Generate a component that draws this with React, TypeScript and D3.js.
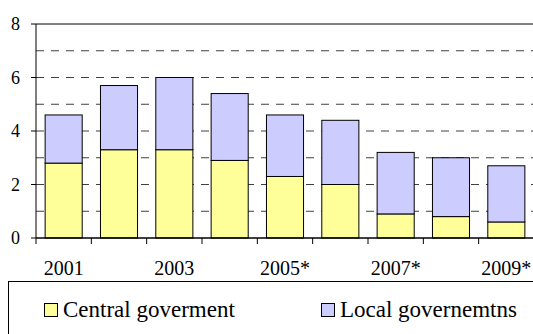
import React from "react";
import * as d3 from "d3";

const categories = ["2001", "2002", "2003", "2004", "2005*", "2006*", "2007*", "2008*", "2009*"];
const tickLabels = ["2001", "", "2003", "", "2005*", "", "2007*", "", "2009*"];
const centralValues = [2.8, 3.3, 3.3, 2.9, 2.3, 2.0, 0.9, 0.8, 0.6];
const localValues = [1.8, 2.4, 2.7, 2.5, 2.3, 2.4, 2.3, 2.2, 2.1];
const seriesNames = ["Central goverment", "Local governemtns"];
const seriesColors = ["#FFFF99", "#CCCCFF"];
const yTicks = [0, 2, 4, 6, 8];
const gridValues = [1, 2, 3, 4, 5, 6, 7];

const W = 533;
const H = 334;
const PL = 36;
const PR = 534;
const PT = 24;
const PB = 238;
const FONT = "Liberation Serif";

export default function App() {
  const x = d3.scaleBand<string>().domain(categories).range([PL, PR]).paddingInner(0.33).paddingOuter(0.165);
  const y = d3.scaleLinear().domain([0, 8]).range([PB, PT]);
  const step = x.step();
  const boundaries = categories.map((c) => (x(c) as number) - (step * 0.33) / 2);
  boundaries.push(PR);

  const stack = d3.stack<any>().keys(["central", "local"])(
    categories.map((c, i) => ({ cat: c, central: centralValues[i], local: localValues[i] }))
  );

  return (
    <svg width={W} height={H} fontFamily={FONT} style={{ position: "absolute", left: 0, top: 0 }}>
      {gridValues.map((v) => (
        <line key={v} x1={PL} x2={PR} y1={y(v)} y2={y(v)} stroke="#404040" strokeWidth={1} strokeDasharray="8,7" />
      ))}
      {stack.map((s, si) =>
        s.map((d, i) => (
          <rect
            key={si + "-" + i}
            x={x(categories[i])}
            y={y(d[1])}
            width={x.bandwidth()}
            height={y(d[0]) - y(d[1])}
            fill={seriesColors[si]}
            stroke="#000"
            strokeWidth={1}
          />
        ))
      )}
      <line x1={PL} x2={PR} y1={PT} y2={PT} stroke="#000" strokeWidth={1} />
      <line x1={PL} x2={PL} y1={PT} y2={PB} stroke="#000" strokeWidth={1} />
      <line x1={PL} x2={PR} y1={PB} y2={PB} stroke="#000" strokeWidth={1.5} />
      {yTicks.map((t) => (
        <g key={t}>
          <line x1={PL - 5} x2={PL} y1={y(t)} y2={y(t)} stroke="#000" />
          <text x={20} y={y(t) + 6} textAnchor="end" fontFamily={FONT} fontSize={18} fill="#000">
            {String(t)}
          </text>
        </g>
      ))}
      {boundaries.map((b, i) => (
        <line key={i} x1={b} x2={b} y1={PB} y2={PB + 6} stroke="#000" />
      ))}
      {categories.map((c, i) =>
        tickLabels[i] ? (
          <text key={c} x={(x(c) as number) + x.bandwidth() / 2} y={275} textAnchor="middle" fontFamily={FONT} fontSize={20} fill="#000">
            {tickLabels[i]}
          </text>
        ) : null
      )}
      <rect x={8.5} y={281.5} width={540} height={80} fill="none" stroke="#000" strokeWidth={1} />
      {seriesNames.map((n, i) => {
        const lx = i === 0 ? 44 : 321;
        return (
          <g key={n}>
            <rect x={lx + 0.5} y={303.5} width={13} height={13} fill={seriesColors[i]} stroke="#000" strokeWidth={1} />
            <text x={lx + 19} y={317} fontFamily={FONT} fontSize={23} fill="#000">
              {n}
            </text>
          </g>
        );
      })}
    </svg>
  );
}
